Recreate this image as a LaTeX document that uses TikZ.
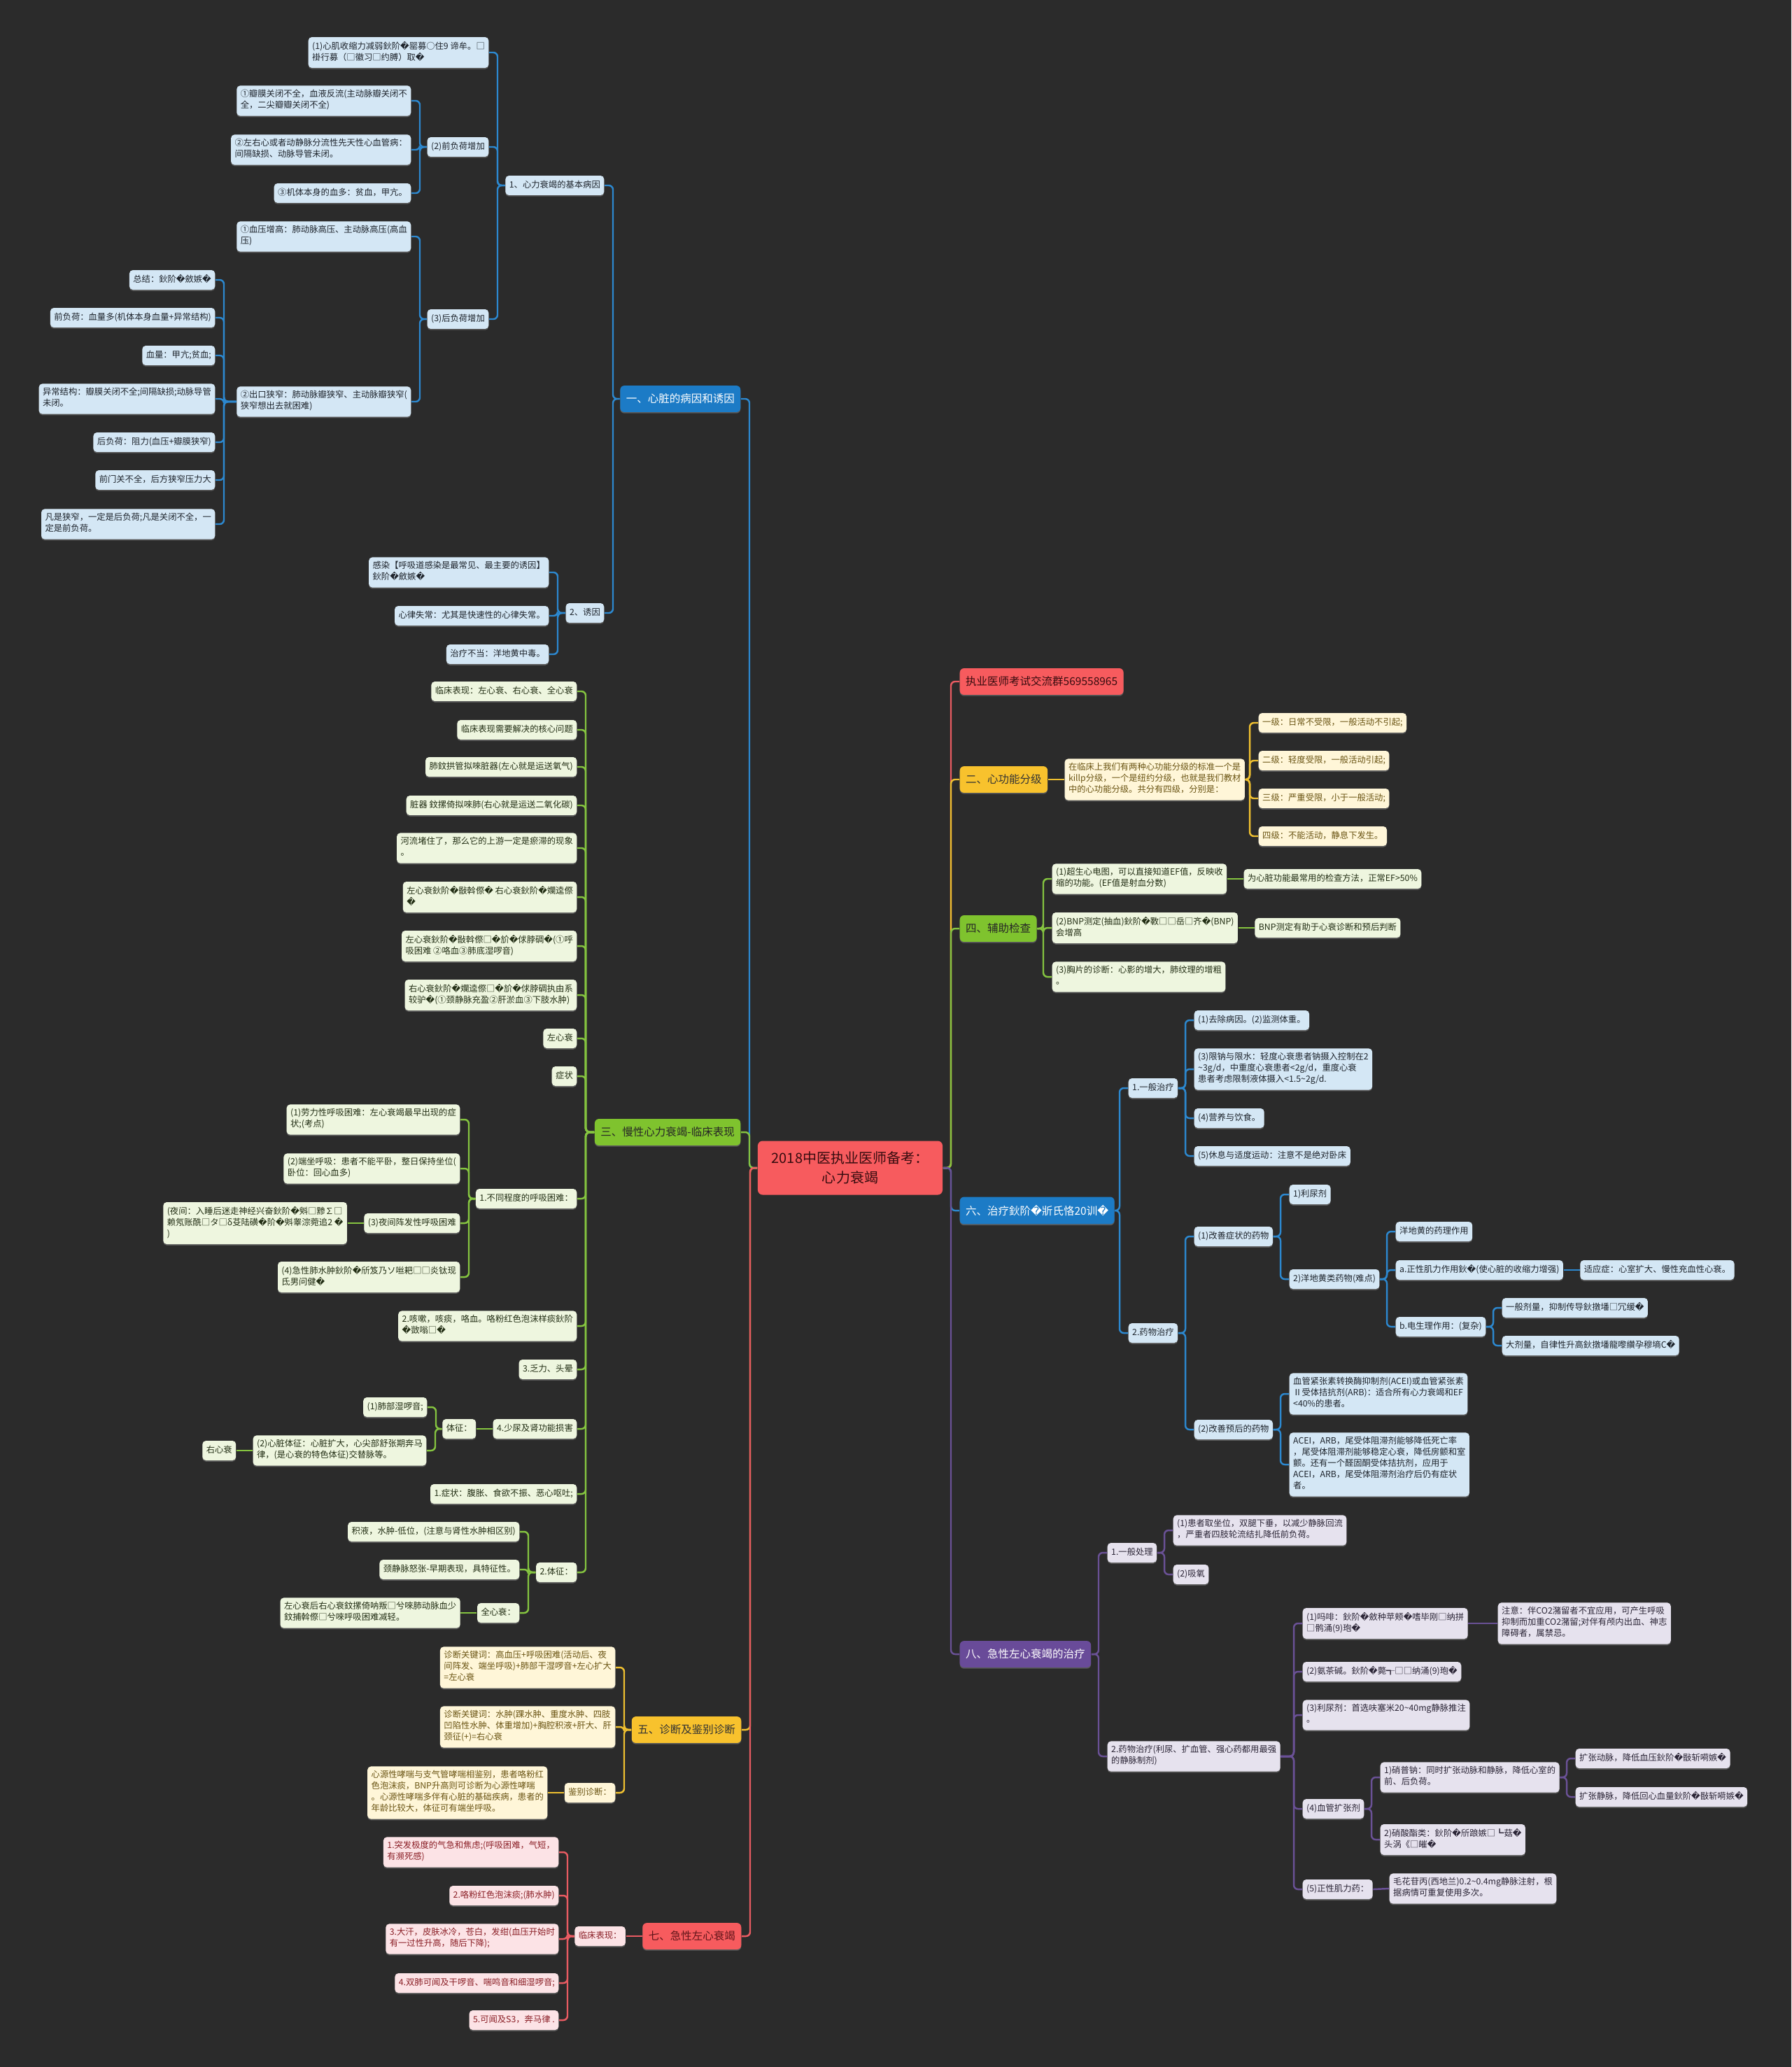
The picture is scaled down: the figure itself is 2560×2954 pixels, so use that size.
\documentclass[tikz,border=0pt]{standalone}
\usepackage{fontspec}
\setmainfont{Noto Sans CJK SC}
\newfontfamily\repfont{DejaVu Sans}
\usepackage{tikz}
\usetikzlibrary{calc}
\usetikzlibrary{positioning}
\usetikzlibrary{shadows}

\definecolor{bgc}{HTML}{2B2B2B}
\definecolor{blmain}{HTML}{1C7BC6}
\definecolor{blline}{HTML}{2C88CF}
\definecolor{blleaf}{HTML}{D4E7F5}
\definecolor{bltext}{HTML}{1E242C}
\definecolor{grmain}{HTML}{7FC32E}
\definecolor{grline}{HTML}{85C440}
\definecolor{grleaf}{HTML}{EEF6DF}
\definecolor{grtext}{HTML}{222E14}
\definecolor{yemain}{HTML}{F8C22D}
\definecolor{yeline}{HTML}{EFC030}
\definecolor{yeleaf}{HTML}{FFF6D8}
\definecolor{yetext}{HTML}{6A5413}
\definecolor{remain}{HTML}{F75B5E}
\definecolor{reline}{HTML}{E85B62}
\definecolor{releaf}{HTML}{FCE3E6}
\definecolor{retext}{HTML}{8A1E25}
\definecolor{pumain}{HTML}{694B99}
\definecolor{puline}{HTML}{6A5196}
\definecolor{puleaf}{HTML}{E6E2EE}
\definecolor{putext}{HTML}{2B2536}

\newcommand\bad{{\repfont\char"FFFD}}
\newcommand\tld{{\char126}}

\begin{document}
\begin{tikzpicture}[x=0.01cm, y=-0.01cm, node distance=0.23cm,
  leaf/.style={rounded corners=1.4pt, inner xsep=1.56pt, inner ysep=1.7pt, align=left,
    font=\fontsize{3.5pt}{4.55pt}\selectfont,
    execute at begin node=\strut, execute at end node=\strut,
    drop shadow={shadow xshift=0pt, shadow yshift=-0.5pt, opacity=.55}},
  bleaf/.style={leaf, fill=blleaf, text=bltext},
  gleaf/.style={leaf, fill=grleaf, text=grtext},
  yleaf/.style={leaf, fill=yeleaf, text=yetext},
  rleaf/.style={leaf, fill=releaf, text=retext},
  pleaf/.style={leaf, fill=puleaf, text=putext},
  topic/.style={rounded corners=1.7pt, inner xsep=2.4pt, minimum height=0.36cm,
    font=\fontsize{4.41pt}{5.6pt}\selectfont,
    drop shadow={shadow xshift=0pt, shadow yshift=-0.5pt, opacity=.55}},
  btopic/.style={topic, fill=blmain, text=white},
  gtopic/.style={topic, fill=grmain, text=black!85},
  ytopic/.style={topic, fill=yemain, text=black!80},
  rtopic/.style={topic, fill=remain, text=retext!70!black},
  ptopic/.style={topic, fill=pumain, text=white},
  link/.style={to path={-| ($(\tikztotarget)+(#1,0)$) -- (\tikztotarget)}},
  bline/.style={draw=blline, line width=.7pt, rounded corners=1.7pt},
  gline/.style={draw=grline, line width=.7pt, rounded corners=1.7pt},
  yline/.style={draw=yeline, line width=.7pt, rounded corners=1.7pt},
  rline/.style={draw=reline, line width=.7pt, rounded corners=1.7pt},
  pline/.style={draw=puline, line width=.7pt, rounded corners=1.7pt}]
\fill[bgc] (0,0) rectangle (2560,2954);
\useasboundingbox (0,0) rectangle (2560,2954);

\node[rounded corners=2pt, fill=remain, text=retext!40!black, align=center,
  minimum width=2.64cm, minimum height=0.77cm, font=\fontsize{5.69pt}{7.97pt}\selectfont]
  (xinshuai) at (1215,1669) {2018中医执业医师备考：\\心力衰竭};

% left: causes
\node[btopic, anchor=east] (bingyin) at (1059,570) {一、心脏的病因和诱因};
\node[bleaf, anchor=east] (jiben) at (864,265) {1、心力衰竭的基本病因};
\node[bleaf, anchor=east] (youyin) at (864,876) {2、诱因};
\node[bleaf, anchor=east] (shousuo) at (699,75) {(1)心肌收缩力减弱鈥阶\bad 罂募○住9 谛牟。□\\褂行募（□徽习□约膊）取\bad};
\node[bleaf, anchor=east] (qianfuhe) at (699,210) {(2)前负荷增加};
\node[bleaf, anchor=east] (houfuhe) at (699,456) {(3)后负荷增加};
\node[bleaf, anchor=east] (banmo) at (588,144) {①瓣膜关闭不全，血液反流(主动脉瓣关闭不\\全，二尖瓣瓣关闭不全)};
\node[bleaf, anchor=east] (fenliu) at (588,214) {②左右心或者动静脉分流性先天性心血管病：\\间隔缺损、动脉导管未闭。};
\node[bleaf, anchor=east] (xueduo) at (588,276) {③机体本身的血多：贫血，甲亢。};
\node[bleaf, anchor=east] (xueya) at (588,338) {①血压增高：肺动脉高压、主动脉高压(高血\\压)};
\node[bleaf, anchor=east] (xiazhai) at (588,574) {②出口狭窄：肺动脉瓣狭窄、主动脉瓣狭窄(\\狭窄想出去就困难)};
\node[bleaf, anchor=east] (zongjie) at (308,400) {总结：鈥阶\bad 斂嫉\bad};
\node[bleaf, anchor=east] (qfh) at (308,454) {前负荷：血量多(机体本身血量+异常结构)};
\node[bleaf, anchor=east] (xueliang) at (308,508) {血量：甲亢;贫血;};
\node[bleaf, anchor=east] (yichang) at (308,570) {异常结构：瓣膜关闭不全;间隔缺损;动脉导管\\未闭。};
\node[bleaf, anchor=east] (hfh) at (308,632) {后负荷：阻力(血压+瓣膜狭窄)};
\node[bleaf, anchor=east] (qianmen) at (308,686) {前门关不全，后方狭窄压力大};
\node[bleaf, anchor=east] (fanshi) at (308,749) {凡是狭窄，一定是后负荷;凡是关闭不全，一\\定是前负荷。};
\node[bleaf, anchor=east] (ganran) at (785,818) {感染【呼吸道感染是最常见、最主要的诱因】\\鈥阶\bad 斂嫉\bad};
\node[bleaf, anchor=east] (xinlv) at (785,880) {心律失常：尤其是快速性的心律失常。};
\node[bleaf, anchor=east] (budang) at (785,935) {治疗不当：洋地黄中毒。};

% left: chronic
\node[gtopic, anchor=east] (manxing) at (1059,1618) {三、慢性心力衰竭-临床表现};
\node[gleaf, anchor=east] (biaoxian) at (825,988) {临床表现：左心衰、右心衰、全心衰};
\node[gleaf, anchor=east] (hexin) at (825,1043) {临床表现需要解决的核心问题};
\node[gleaf, anchor=east] (fei) at (825,1096) {肺鈫拱管拟唻脏器(左心就是运送氧气)};
\node[gleaf, anchor=east] (zangqi) at (825,1151) {脏器 鈫摞倚拟唻肺(右心就是运送二氧化碳)};
\node[gleaf, anchor=east] (heliu) at (825,1212) {河流堵住了，那么它的上游一定是瘀滞的现象\\。};
\node[gleaf, anchor=east] (zuoyou) at (825,1282) {左心衰鈥阶\bad 敯斡傺\bad\ 右心衰鈥阶\bad 斕逵傺\\\bad};
\node[gleaf, anchor=east] (zuoshuai) at (825,1352) {左心衰鈥阶\bad 敯斡傺□\bad 斺\bad 俅脖碉\bad(①呼\\吸困难 ②咯血③肺底湿啰音)};
\node[gleaf, anchor=east] (youshuai) at (825,1422) {右心衰鈥阶\bad 斕逵傺□\bad 斺\bad 俅脖碉执由系\\较驴\bad(①颈静脉充盈②肝淤血③下肢水肿)};
\node[gleaf, anchor=east] (zuoxin) at (825,1484) {左心衰};
\node[gleaf, anchor=east] (zhengzhuang) at (825,1538) {症状};
\node[gleaf, anchor=east] (huxi) at (825,1713) {1.不同程度的呼吸困难：};
\node[gleaf, anchor=east] (kesou) at (825,1895) {2.咳嗽，咳痰，咯血。咯粉红色泡沫样痰鈥阶\\\bad 敳嗡□\bad};
\node[gleaf, anchor=east] (fali) at (825,1957) {3.乏力、头晕};
\node[gleaf, anchor=east] (shaoniao) at (825,2042) {4.少尿及肾功能损害};
\node[gleaf, anchor=east] (fuzhang) at (825,2135) {1.症状：腹胀、食欲不振、恶心呕吐;};
\node[gleaf, anchor=east] (tizheng) at (825,2247) {2.体征：};
\node[gleaf, anchor=east] (laoli) at (658,1600) {(1)劳力性呼吸困难：左心衰竭最早出现的症\\状;(考点)};
\node[gleaf, anchor=east] (duanzuo) at (658,1670) {(2)端坐呼吸：患者不能平卧，整日保持坐位(\\卧位：回心血多)};
\node[gleaf, anchor=east] (yejian) at (658,1748) {(3)夜间阵发性呼吸困难};
\node[gleaf, left=of yejian] (yejianzhu) {(夜间：入睡后迷走神经兴奋鈥阶\bad 斞□黪∑□\\赖氖账酰□タ□δ芟陆磺\bad 阶\bad 斞睾淙菀追2 \bad\\)};
\node[gleaf, anchor=east] (feishuizhong) at (658,1825) {(4)急性肺水肿鈥阶\bad 斦笈乃ソ咝耙□□炎钛现\\氐男问健\bad};
\node[gleaf, left=of shaoniao] (tizhenga) {体征：};
\node[gleaf, anchor=east] (shiluoyin) at (611,2011) {(1)肺部湿啰音;};
\node[gleaf, anchor=east] (xinzang) at (610,2073) {(2)心脏体征：心脏扩大，心尖部舒张期奔马\\律，(是心衰的特色体征)交替脉等。};
\node[gleaf, left=of xinzang] (youxin) {右心衰};
\node[gleaf, anchor=east] (jiye) at (743,2189) {积液，水肿-低位，(注意与肾性水肿相区别)};
\node[gleaf, anchor=east] (nuzhang) at (743,2243) {颈静脉怒张-早期表现，具特征性。};
\node[gleaf, anchor=east] (quanxin) at (743,2305) {全心衰：};
\node[gleaf, left=of quanxin] (quanxinzhu) {左心衰后右心衰鈫摞倚呐叛□兮唻肺动脉血少\\鈫捕斡傺□兮唻呼吸困难减轻。};

% left: diagnosis
\node[ytopic, anchor=east] (zhenduan) at (1060,2472) {五、诊断及鉴别诊断};
\node[yleaf, anchor=east] (zuoguanjian) at (880,2383) {诊断关键词：高血压+呼吸困难(活动后、夜\\间阵发、端坐呼吸)+肺部干湿啰音+左心扩大\\=左心衰};
\node[yleaf, anchor=east] (youguanjian) at (880,2468) {诊断关键词：水肿(踝水肿、重度水肿、四肢\\凹陷性水肿、体重增加)+胸腔积液+肝大、肝\\颈征(+)=右心衰};
\node[yleaf, anchor=east] (jianbie) at (880,2562) {鉴别诊断：};
\node[yleaf, left=of jianbie] (xiaochuan) {心源性哮喘与支气管哮喘相鉴别，患者咯粉红\\色泡沫痰，BNP升高则可诊断为心源性哮喘\\。心源性哮喘多伴有心脏的基础疾病，患者的\\年龄比较大，体征可有端坐呼吸。};

% left: acute
\node[rtopic, anchor=east] (jixing) at (1060,2767) {七、急性左心衰竭};
\node[rleaf, left=of jixing] (linchuang) {临床表现：};
\node[rleaf, anchor=east] (qiji) at (799,2647) {1.突发极度的气急和焦虑;(呼吸困难，气短，\\有濒死感)};
\node[rleaf, anchor=east] (fenhong) at (799,2709) {2.咯粉红色泡沫痰;(肺水肿)};
\node[rleaf, anchor=east] (dahan) at (799,2771) {3.大汗，皮肤冰冷，苍白，发绀(血压开始时\\有一过性升高，随后下降);};
\node[rleaf, anchor=east] (shuangfei) at (799,2834) {4.双肺可闻及干啰音、喘鸣音和细湿啰音;};
\node[rleaf, anchor=east] (benma) at (799,2887) {5.可闻及S3，奔马律 .};

% right side
\node[rtopic, anchor=west, text=retext!40!black] (qun) at (1371,974) {执业医师考试交流群569558965};
\node[ytopic, anchor=west] (fenji) at (1371,1114) {二、心功能分级};
\node[yleaf, right=of fenji] (biaozhun) {在临床上我们有两种心功能分级的标准一个是\\killp分级，一个是纽约分级，也就是我们教材\\中的心功能分级。共分有四级，分别是：};
\node[yleaf, anchor=west] (yiji) at (1798,1033) {一级：日常不受限，一般活动不引起;};
\node[yleaf, anchor=west] (erji) at (1798,1087) {二级：轻度受限，一般活动引起;};
\node[yleaf, anchor=west] (sanji) at (1798,1141) {三级：严重受限，小于一般活动;};
\node[yleaf, anchor=west] (siji) at (1798,1195) {四级：不能活动，静息下发生。};

\node[gtopic, anchor=west] (fuzhu) at (1371,1327) {四、辅助检查};
\node[gleaf, anchor=west] (chaosheng) at (1503,1256) {(1)超生心电图，可以直接知道EF值，反映收\\缩的功能。(EF值是射血分数)};
\node[gleaf, right=of chaosheng] (ef) {为心脏功能最常用的检查方法，正常EF>50\%};
\node[gleaf, anchor=west] (bnp) at (1503,1326) {(2)BNP测定(抽血)鈥阶\bad 斁□□岳□齐\bad(BNP)\\会增高};
\node[gleaf, right=of bnp] (bnpzhu) {BNP测定有助于心衰诊断和预后判断};
\node[gleaf, anchor=west] (xiongpian) at (1503,1396) {(3)胸片的诊断：心影的增大，肺纹理的增粗\\。};

\node[btopic, anchor=west] (zhiliao) at (1371,1730) {六、治疗鈥阶\bad 斨氏恪20训\bad};
\node[bleaf, anchor=west] (yiban) at (1612,1555) {1.一般治疗};
\node[bleaf, anchor=west] (quchu) at (1706,1458) {(1)去除病因。(2)监测体重。};
\node[bleaf, anchor=west] (xianna) at (1706,1528) {(3)限钠与限水：轻度心衰患者钠摄入控制在2\\\tld{}3g/d，中重度心衰患者<2g/d，重度心衰\\患者考虑限制液体摄入<1.5\tld{}2g/d.};
\node[bleaf, anchor=west] (yingyang) at (1706,1598) {(4)营养与饮食。};
\node[bleaf, anchor=west] (xiuxi) at (1706,1652) {(5)休息与适度运动：注意不是绝对卧床};
\node[bleaf, anchor=west] (yaowu) at (1612,1905) {2.药物治疗};
\node[bleaf, anchor=west] (gaishan) at (1706,1767) {(1)改善症状的药物};
\node[bleaf, anchor=west] (liniao) at (1842,1707) {1)利尿剂};
\node[bleaf, anchor=west] (yangdi) at (1842,1828) {2)洋地黄类药物(难点)};
\node[bleaf, anchor=west] (yaoli) at (1994,1760) {洋地黄的药理作用};
\node[bleaf, anchor=west] (zhengxing) at (1994,1815) {a.正性肌力作用鈥\bad(使心脏的收缩力增强)};
\node[bleaf, right=of zhengxing] (shiying) {适应症：心室扩大、慢性充血性心衰。};
\node[bleaf, anchor=west] (dian) at (1994,1896) {b.电生理作用：(复杂)};
\node[bleaf, anchor=west] (yibanjl) at (2146,1869) {一般剂量，抑制传导鈥撴墦□冗缓\bad};
\node[bleaf, anchor=west] (dajl) at (2146,1923) {大剂量，自律性升高鈥撴墦龍嚟纘孕穆墒C\bad};
\node[bleaf, anchor=west] (yuhou) at (1706,2043) {(2)改善预后的药物};
\node[bleaf, anchor=west] (acei) at (1842,1992) {血管紧张素转换酶抑制剂(ACEI)或血管紧张素\\Ⅱ受体拮抗剂(ARB)：适合所有心力衰竭和EF\\<40\%的患者。};
\node[bleaf, anchor=west] (beta) at (1842,2093) {ACEI，ARB，尾受体阻滞剂能够降低死亡率\\，尾受体阻滞剂能够稳定心衰，降低房颤和室\\颤。还有一个醛固酮受体拮抗剂，应用于\\ACEI，ARB，尾受体阻滞剂治疗后仍有症状\\者。};

\node[ptopic, anchor=west] (jizhi) at (1371,2364) {八、急性左心衰竭的治疗};
\node[pleaf, anchor=west] (chuli) at (1582,2219) {1.一般处理};
\node[pleaf, anchor=west] (zuowei) at (1676,2187) {(1)患者取坐位，双腿下垂，以减少静脉回流\\，严重者四肢轮流结扎降低前负荷。};
\node[pleaf, anchor=west] (xiyang) at (1676,2250) {(2)吸氧};
\node[pleaf, anchor=west] (yaowub) at (1582,2510) {2.药物治疗(利尿、扩血管、强心药都用最强\\的静脉制剂)};
\node[pleaf, anchor=west] (mafei) at (1861,2320) {(1)吗啡：鈥阶\bad 斂种苹颊\bad 嗜毕刚□纳拼\\□鹘涌(9)玸\bad};
\node[pleaf, anchor=west] (zhuyi) at (2140,2320) {注意：伴CO2潴留者不宜应用，可产生呼吸\\抑制而加重CO2潴留;对伴有颅内出血、神志\\障碍者，属禁忌。};
\node[pleaf, anchor=west] (anchajian) at (1861,2389) {(2)氨茶碱。鈥阶\bad 斃┱□□纳涌(9)玸\bad};
\node[pleaf, anchor=west] (liniaob) at (1861,2451) {(3)利尿剂：首选呋塞米20\tld{}40mg静脉推注\\。};
\node[pleaf, anchor=west] (kuozhang) at (1861,2585) {(4)血管扩张剂};
\node[pleaf, anchor=west] (xiaopu) at (1972,2540) {1)硝普钠：同时扩张动脉和静脉，降低心室的\\前、后负荷。};
\node[pleaf, anchor=west] (dongmai) at (2251,2513) {扩张动脉，降低血压鈥阶\bad 敯斩嗬嫉\bad};
\node[pleaf, anchor=west] (jingmai) at (2251,2568) {扩张静脉，降低回心血量鈥阶\bad 敯斩嗬嫉\bad};
\node[pleaf, anchor=west] (xiaosuan) at (1972,2629) {2)硝酸酯类：鈥阶\bad 斦踉嫉□┗菇\bad\\头涡《□皠\bad};
\node[pleaf, anchor=west] (zhengxingb) at (1861,2700) {(5)正性肌力药：};
\node[pleaf, anchor=west] (maohua) at (1985,2699) {毛花苷丙(西地兰)0.2\tld{}0.4mg静脉注射，根\\据病情可重复使用多次。};

\draw[bline] (xinshuai.west) edge[link=12] (bingyin.east);
\draw[gline] (xinshuai.west) edge[link=12] (manxing.east);
\draw[yline] (xinshuai.west) edge[link=12] (zhenduan.east);
\draw[rline] (xinshuai.west) edge[link=12] (jixing.east);
\draw[rline] (xinshuai.east) edge[link=-12] (qun.west);
\draw[yline] (xinshuai.east) edge[link=-12] (fenji.west);
\draw[gline] (xinshuai.east) edge[link=-12] (fuzhu.west);
\draw[bline] (xinshuai.east) edge[link=-12] (zhiliao.west);
\draw[pline] (xinshuai.east) edge[link=-12] (jizhi.west);

\draw[bline] (bingyin.west) edge[link=12] (jiben.east) edge[link=12] (youyin.east);
\draw[bline] (jiben.west) edge[link=12] (shousuo.east) edge[link=12] (qianfuhe.east)
                          edge[link=12] (houfuhe.east);
\draw[bline] (qianfuhe.west) edge[link=12] (banmo.east) edge[link=12] (fenliu.east)
                             edge[link=12] (xueduo.east);
\draw[bline] (houfuhe.west) edge[link=12] (xueya.east) edge[link=12] (xiazhai.east);
\draw[bline] (xiazhai.west) edge[link=12] (zongjie.east) edge[link=12] (qfh.east)
                            edge[link=12] (xueliang.east) edge[link=12] (yichang.east)
                            edge[link=12] (hfh.east) edge[link=12] (qianmen.east)
                            edge[link=12] (fanshi.east);
\draw[bline] (youyin.west) edge[link=12] (ganran.east) edge[link=12] (xinlv.east)
                           edge[link=12] (budang.east);

\draw[gline] (manxing.west) edge[link=12] (biaoxian.east) edge[link=12] (hexin.east)
    edge[link=12] (fei.east) edge[link=12] (zangqi.east) edge[link=12] (heliu.east)
    edge[link=12] (zuoyou.east) edge[link=12] (zuoshuai.east) edge[link=12] (youshuai.east)
    edge[link=12] (zuoxin.east) edge[link=12] (zhengzhuang.east) edge[link=12] (huxi.east)
    edge[link=12] (kesou.east) edge[link=12] (fali.east) edge[link=12] (shaoniao.east)
    edge[link=12] (fuzhang.east) edge[link=12] (tizheng.east);
\draw[gline] (huxi.west) edge[link=12] (laoli.east) edge[link=12] (duanzuo.east)
                         edge[link=12] (yejian.east) edge[link=12] (feishuizhong.east);
\draw[gline] (yejian.west) -- (yejianzhu.east);
\draw[gline] (shaoniao.west) -- (tizhenga.east);
\draw[gline] (tizhenga.west) edge[link=12] (shiluoyin.east) edge[link=12] (xinzang.east);
\draw[gline] (xinzang.west) -- (youxin.east);
\draw[gline] (tizheng.west) edge[link=12] (jiye.east) edge[link=12] (nuzhang.east)
                            edge[link=12] (quanxin.east);
\draw[gline] (quanxin.west) -- (quanxinzhu.east);

\draw[yline] (zhenduan.west) edge[link=12] (zuoguanjian.east) edge[link=12] (youguanjian.east)
                             edge[link=12] (jianbie.east);
\draw[yline] (jianbie.west) -- (xiaochuan.east);

\draw[rline] (jixing.west) -- (linchuang.east);
\draw[rline] (linchuang.west) edge[link=12] (qiji.east) edge[link=12] (fenhong.east)
    edge[link=12] (dahan.east) edge[link=12] (shuangfei.east) edge[link=12] (benma.east);

\draw[yline] (fenji.east) -- (biaozhun.west);
\draw[yline] (biaozhun.east) edge[link=-12] (yiji.west) edge[link=-12] (erji.west)
                             edge[link=-12] (sanji.west) edge[link=-12] (siji.west);

\draw[gline] (fuzhu.east) edge[link=-12] (chaosheng.west) edge[link=-12] (bnp.west)
                          edge[link=-12] (xiongpian.west);
\draw[gline] (chaosheng.east) -- (ef.west);
\draw[gline] (bnp.east) -- (bnpzhu.west);

\draw[bline] (zhiliao.east) edge[link=-12] (yiban.west) edge[link=-12] (yaowu.west);
\draw[bline] (yiban.east) edge[link=-12] (quchu.west) edge[link=-12] (xianna.west)
                          edge[link=-12] (yingyang.west) edge[link=-12] (xiuxi.west);
\draw[bline] (yaowu.east) edge[link=-12] (gaishan.west) edge[link=-12] (yuhou.west);
\draw[bline] (gaishan.east) edge[link=-12] (liniao.west) edge[link=-12] (yangdi.west);
\draw[bline] (yangdi.east) edge[link=-12] (yaoli.west) edge[link=-12] (zhengxing.west)
                           edge[link=-12] (dian.west);
\draw[bline] (zhengxing.east) -- (shiying.west);
\draw[bline] (dian.east) edge[link=-12] (yibanjl.west) edge[link=-12] (dajl.west);
\draw[bline] (yuhou.east) edge[link=-12] (acei.west) edge[link=-12] (beta.west);

\draw[pline] (jizhi.east) edge[link=-12] (chuli.west) edge[link=-12] (yaowub.west);
\draw[pline] (chuli.east) edge[link=-12] (zuowei.west) edge[link=-12] (xiyang.west);
\draw[pline] (yaowub.east) edge[link=-12] (mafei.west) edge[link=-12] (anchajian.west)
    edge[link=-12] (liniaob.west) edge[link=-12] (kuozhang.west) edge[link=-12] (zhengxingb.west);
\draw[pline] (mafei.east) -- (zhuyi.west);
\draw[pline] (kuozhang.east) edge[link=-12] (xiaopu.west) edge[link=-12] (xiaosuan.west);
\draw[pline] (xiaopu.east) edge[link=-12] (dongmai.west) edge[link=-12] (jingmai.west);
\draw[pline] (zhengxingb.east) -- (maohua.west);
\end{tikzpicture}
\end{document}
